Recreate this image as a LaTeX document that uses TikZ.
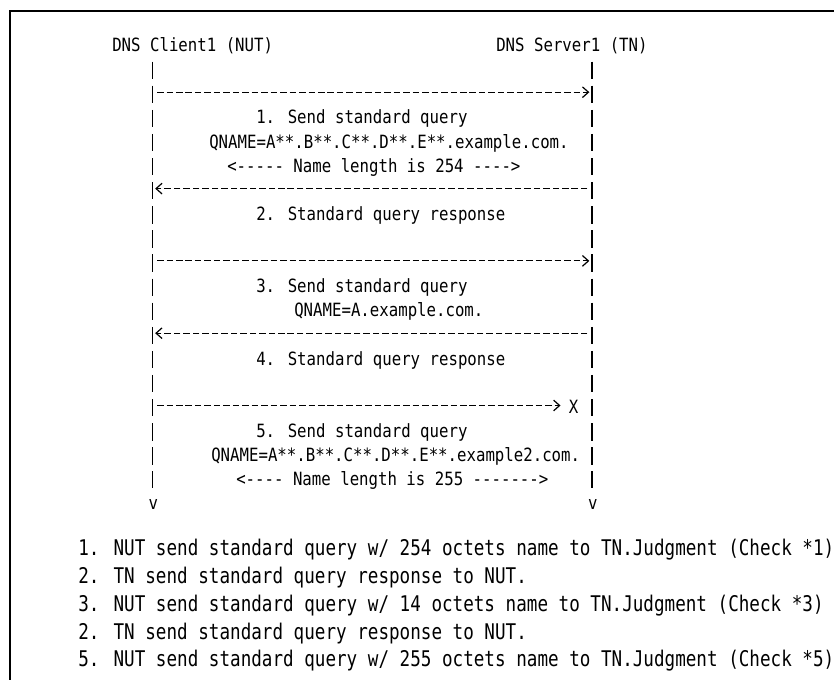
\documentclass[tikz,border=0pt]{standalone}
\usepackage{fontspec}
\usetikzlibrary{arrows.meta, positioning}
\newfontfamily\seqfont[FakeStretch=0.86]{DejaVu Sans Mono}
\newfontfamily\notefont[FakeStretch=0.815]{DejaVu Sans Mono}
\tikzset{
  seq text/.style={
    font=\seqfont\fontsize{13.7}{16}\selectfont,
    inner sep=0pt, anchor=base west
  },
  seq note/.style={
    font=\notefont\fontsize{16.2}{19}\selectfont,
    inner sep=0pt, anchor=base west
  },
  lifeline/.style={
    line width=1pt, dash pattern=on 13pt off 5.08pt
  },
  seq msg/.style={
    line width=0.9pt, dash pattern=on 4.9pt off 2.2pt,
    -{Straight Barb[length=4.5pt,width=8pt]},
    shorten <=3.4pt, shorten >=2pt
  },
  frame line/.style={line width=1.5pt, draw=black}
}
\begin{document}
\begin{tikzpicture}[x=0.75pt, y=-0.75pt]
  \useasboundingbox (0,0) rectangle (834,680);
  \draw[frame line] (10,680) -- (10,11) -- (834,11);

  % end points
  \node (client) [seq text] at (112,51.7) {DNS Client1 (NUT)};
  \node (server) [seq text] at (496,51.7) {DNS Server1 (TN)};
  \coordinate (cTop) at (152.5,61.6);
  \coordinate (sTop) at (592,61.6);
  \coordinate (cBot) at (152.5,488.3);
  \coordinate (sBot) at (592,488.3);
  \node (cEnd) [seq text] at (148.4,509.5) {v};
  \node (sEnd) [seq text] at (587.9,509.5) {v};
  \draw[lifeline] (cTop) -- (cBot);
  \draw[lifeline] (sTop) -- (sBot);

  % messages
  \coordinate (q1c) at (152.5,92.2);   \coordinate (q1s) at (592,92.2);
  \coordinate (r2c) at (152.5,188.6);  \coordinate (r2s) at (592,188.6);
  \coordinate (q3c) at (152.5,260.9);  \coordinate (q3s) at (592,260.9);
  \coordinate (r4c) at (152.5,333.2);  \coordinate (r4s) at (592,333.2);
  \coordinate (q5c) at (152.5,405.5);
  \node (lost) [seq text] at (568.5,413.2) {X};

  \draw[seq msg] (q1c) -- (q1s);
  \draw[seq msg] (r2s) -- (r2c);
  \draw[seq msg] (q3c) -- (q3s);
  \draw[seq msg] (r4s) -- (r4c);
  \draw[seq msg, shorten >=6pt] (q5c) -- (q5c -| lost.west);

  % labels
  \node (q1a) [seq text] at (256,124) {1. Send standard query};
  \node (q1b) [seq text] at (209,148.1) {QNAME=A**.B**.C**.D**.E**.example.com.};
  \node (q1d) [seq text] at (227,172.2) {<----- Name length is 254 ---->};
  \node (r2a) [seq text] at (256,220.4) {2. Standard query response};
  \node (q3a) [seq text] at (256,292.7) {3. Send standard query};
  \node (q3b) [seq text] at (294,316.8) {QNAME=A.example.com.};
  \node (r4a) [seq text] at (256,365) {4. Standard query response};
  \node (q5a) [seq text] at (256,437.3) {5. Send standard query};
  \node (q5b) [seq text] at (211,461.4) {QNAME=A**.B**.C**.D**.E**.example2.com.};
  \node (q5d) [seq text] at (236,485.5) {<---- Name length is 255 ------->};

  % judgment list
  \node (j1) [seq note] at (78,555) {1. NUT send standard query w/ 254 octets name to TN.Judgment (Check *1)};
  \node (j2) [seq note] at (78,583) {2. TN send standard query response to NUT.};
  \node (j3) [seq note] at (78,611) {3. NUT send standard query w/ 14 octets name to TN.Judgment (Check *3)};
  \node (j4) [seq note] at (78,639) {2. TN send standard query response to NUT.};
  \node (j5) [seq note] at (78,666) {5. NUT send standard query w/ 255 octets name to TN.Judgment (Check *5)};
\end{tikzpicture}
\end{document}
